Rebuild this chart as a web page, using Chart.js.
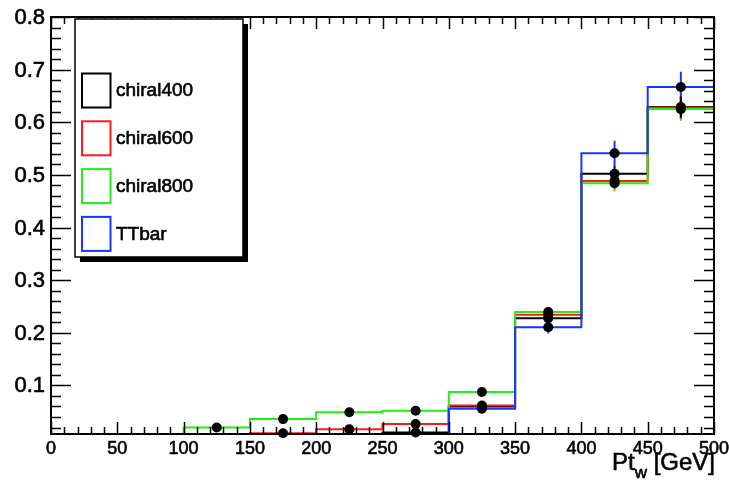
<!DOCTYPE html>
<html>
<head>
<meta charset="utf-8">
<script src="https://cdn.jsdelivr.net/npm/chart.js@4/dist/chart.umd.min.js"></script>
<style>
  html, body { margin: 0; padding: 0; background: #fff; }
  canvas { display: block; }
</style>
</head>
<body>
<canvas id="grafico" width="729" height="481"></canvas>
<script>
// ===== Datos =====
const binEdges = [0, 50, 100, 150, 200, 250, 300, 350, 400, 450, 500];
const seriesNames = ["chiral400", "chiral600", "chiral800", "TTbar"];
const seriesColors = ["#000000", "#ff1a1a", "#22ee11", "#1438ff"];

const chiral400 = [0, 0, 0, 0, 0, 0.0105, 0.060, 0.2276, 0.502, 0.629];
const chiral600 = [0, 0, 0, 0.009, 0.0165, 0.0266, 0.062, 0.2344, 0.4886, 0.628];
const chiral800 = [0, 0, 0.020, 0.036, 0.049, 0.052, 0.0875, 0.2395, 0.484, 0.625];
const ttbar     = [0, 0, 0, 0, 0, 0, 0.0557, 0.2105, 0.541, 0.667];

const err400 = [0, 0, 0, 0, 0, 0.004, 0.005, 0.008, 0.015, 0.020];
const err600 = [0, 0, 0, 0.003, 0.004, 0.005, 0.006, 0.008, 0.015, 0.022];
const err800 = [0, 0, 0.004, 0.005, 0.006, 0.006, 0.007, 0.009, 0.015, 0.022];
const errTT  = [0, 0, 0, 0, 0, 0, 0.005, 0.012, 0.024, 0.029];

const xTickValues = [0, 50, 100, 150, 200, 250, 300, 350, 400, 450, 500];
const xTickLabels = ["0", "50", "100", "150", "200", "250", "300", "350", "400", "450", "500"];
const yTickValues = [0.1, 0.2, 0.3, 0.4, 0.5, 0.6, 0.7, 0.8];
const yTickLabels = ["0.1", "0.2", "0.3", "0.4", "0.5", "0.6", "0.7", "0.8"];

const yMin = 0.0077;
const yMax = 0.8;

const valores = [chiral400, chiral600, chiral800, ttbar];
const errores = [err400, err600, err800, errTT];

// ===== Datasets =====
function histoPoints(vals) {
  // escalón: cada bin desde su borde izquierdo; ceros al piso del eje (como ROOT)
  const pts = vals.map((v, i) => ({ x: binEdges[i], y: Math.max(v, yMin) }));
  pts.push({ x: binEdges[binEdges.length - 1], y: Math.max(vals[vals.length - 1], yMin) });
  return pts;
}

function errorPoints(vals, errs) {
  const pts = [];
  vals.forEach((v, i) => {
    if (v <= 0) return;
    const c = (binEdges[i] + binEdges[i + 1]) / 2;
    pts.push({ x: c, y: v - errs[i] }, { x: c, y: v + errs[i] }, { x: c, y: null });
  });
  return pts;
}

function markerPoints(vals) {
  const pts = [];
  vals.forEach((v, i) => {
    if (v <= 0) return;
    pts.push({ x: (binEdges[i] + binEdges[i + 1]) / 2, y: v });
  });
  return pts;
}

const datasets = [];
valores.forEach((vals, k) => {
  datasets.push({
    type: "line",
    label: seriesNames[k],
    data: histoPoints(vals),
    stepped: true,
    borderColor: seriesColors[k],
    borderWidth: 2,
    pointRadius: 0,
    fill: false,
    clip: false,
    order: 10 - k
  });
});
valores.forEach((vals, k) => {
  datasets.push({
    type: "line",
    label: "err_" + seriesNames[k],
    data: errorPoints(vals, errores[k]),
    borderColor: seriesColors[k],
    borderWidth: 2,
    pointRadius: 0,
    spanGaps: false,
    fill: false,
    clip: false,
    order: 2
  });
  datasets.push({
    type: "scatter",
    label: "pts_" + seriesNames[k],
    data: markerPoints(vals),
    backgroundColor: "#000",
    borderColor: "#000",
    pointRadius: 5,
    pointBorderWidth: 0,
    showLine: false,
    clip: false,
    order: 1
  });
});

// texto un poco más grueso, como el render de ROOT
function texto(ctx, s, x, y) {
  ctx.fillText(s, x, y);
  ctx.strokeText(s, x, y);
}

// ===== Marco, ticks, etiquetas y leyenda estilo ROOT =====
const rootStyle = {
  id: "rootStyle",
  afterDraw(chart) {
    const ctx = chart.ctx;
    const xs = chart.scales.x, ys = chart.scales.y;
    const a = chart.chartArea;
    ctx.save();
    ctx.strokeStyle = "#000";
    ctx.fillStyle = "#000";

    // marco
    ctx.lineWidth = 2;
    ctx.strokeRect(a.left, a.top, a.right - a.left, a.bottom - a.top);

    // ticks eje x (abajo y arriba)
    ctx.lineWidth = 1.5;
    ctx.beginPath();
    for (let v = 0; v <= 500; v += 10) {
      const px = Math.round(xs.getPixelForValue(v)) + 0.5;
      const len = v % 50 === 0 ? 12 : 7;
      ctx.moveTo(px, a.bottom); ctx.lineTo(px, a.bottom - len);
      ctx.moveTo(px, a.top); ctx.lineTo(px, a.top + len);
    }
    // ticks eje y (izquierda y derecha)
    for (let i = 1; i <= 40; i++) {
      const v = i * 0.02;
      if (v < yMin) continue;
      const py = Math.round(ys.getPixelForValue(v)) + 0.5;
      const len = i % 5 === 0 ? 20 : 10;
      ctx.moveTo(a.left, py); ctx.lineTo(a.left + len, py);
      ctx.moveTo(a.right, py); ctx.lineTo(a.right - len, py);
    }
    ctx.stroke();

    // etiquetas
    ctx.lineWidth = 0.6;
    ctx.font = "22px 'Liberation Sans', Arial, sans-serif";
    ctx.textAlign = "right";
    ctx.textBaseline = "middle";
    yTickValues.forEach((v, i) => {
      texto(ctx, yTickLabels[i], a.left - 6, ys.getPixelForValue(v) + 1);
    });
    ctx.font = "18px 'Liberation Sans', Arial, sans-serif";
    ctx.textAlign = "center";
    ctx.textBaseline = "middle";
    xTickValues.forEach((v, i) => {
      texto(ctx, xTickLabels[i], xs.getPixelForValue(v), a.bottom + 15);
    });

    // título eje x: Pt_w [GeV]
    const big = "24px 'Liberation Sans', Arial, sans-serif";
    const small = "17px 'Liberation Sans', Arial, sans-serif";
    ctx.textAlign = "left";
    ctx.textBaseline = "alphabetic";
    ctx.font = big;
    const wPt = ctx.measureText("Pt").width;
    const wRest = ctx.measureText(" [GeV]").width;
    ctx.font = small;
    const wSub = ctx.measureText("w").width;
    let x0 = a.right + 1 - (wPt + wSub + wRest);
    ctx.font = big;
    texto(ctx, "Pt", x0, 470);
    ctx.font = small;
    texto(ctx, "w", x0 + wPt, 478);
    ctx.font = big;
    texto(ctx, " [GeV]", x0 + wPt + wSub, 470);

    // leyenda
    const lx = 75, ly = 19, lw = 168, lh = 238;
    ctx.fillRect(lx + 5, ly + 5, lw, lh);
    ctx.fillStyle = "#fff";
    ctx.fillRect(lx, ly, lw, lh);
    ctx.lineWidth = 1.5;
    ctx.strokeStyle = "#000";
    ctx.strokeRect(lx, ly, lw, lh);
    ctx.font = "19px 'Liberation Sans', Arial, sans-serif";
    ctx.textBaseline = "middle";
    ctx.textAlign = "left";
    seriesNames.forEach((name, k) => {
      const by = 73.5 + k * 47.8;
      ctx.strokeStyle = seriesColors[k];
      ctx.lineWidth = 2;
      ctx.strokeRect(82, by, 28.5, 34);
      ctx.fillStyle = "#000";
      ctx.strokeStyle = "#000";
      ctx.lineWidth = 0.6;
      texto(ctx, name, 116, by + 17.5);
    });
    ctx.restore();
  }
};

// ===== Chart.js =====
const ctx = document.getElementById("grafico").getContext("2d");
const chart = new Chart(ctx, {
  type: "line",
  data: { datasets },
  options: {
    responsive: false,
    animation: false,
    devicePixelRatio: 1,
    layout: { padding: { left: 51, right: 15, top: 17, bottom: 47 } },
    scales: {
      x: { type: "linear", min: 0, max: 500, display: false },
      y: { type: "linear", min: yMin, max: yMax, display: false }
    },
    plugins: {
      legend: { display: false },
      tooltip: { enabled: false }
    }
  },
  plugins: [rootStyle]
});
</script>
</body>
</html>
